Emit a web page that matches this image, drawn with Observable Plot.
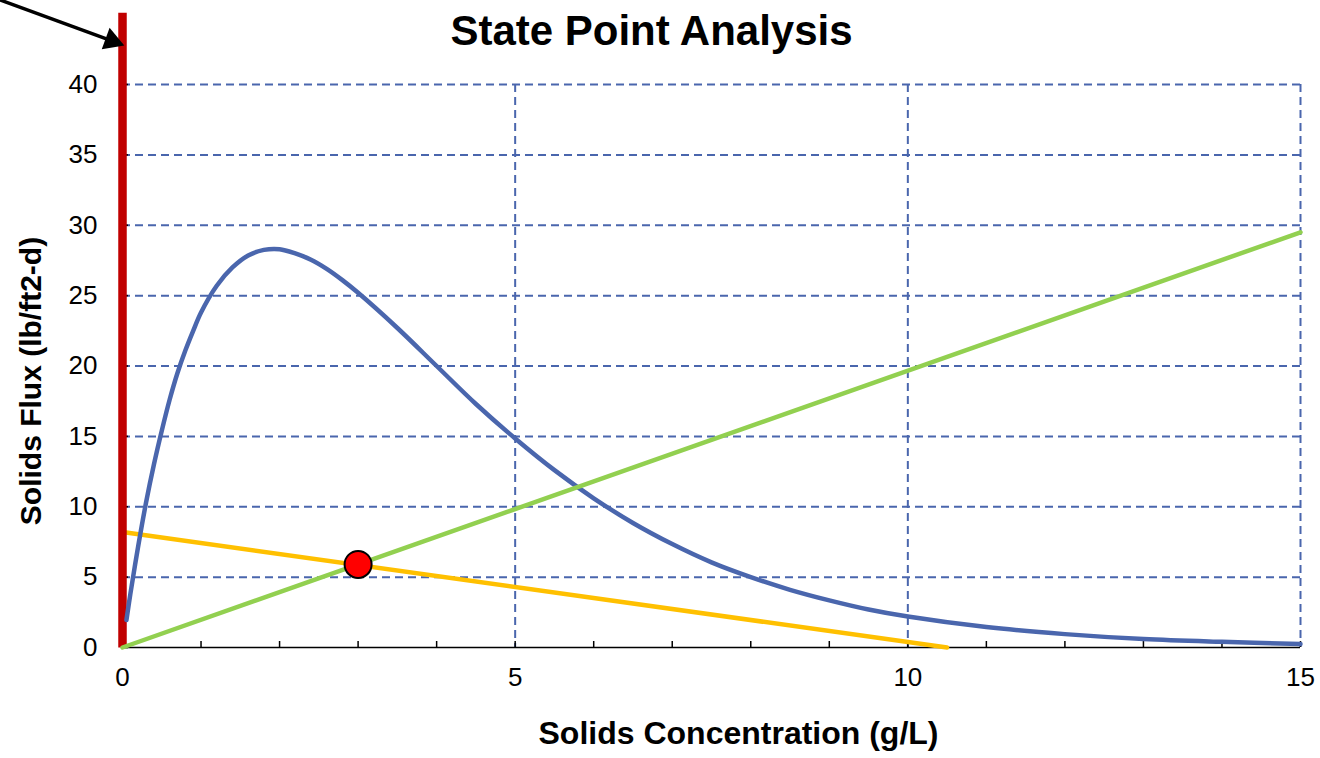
<!DOCTYPE html>
<html>
<head>
<meta charset="utf-8">
<script src="https://cdn.jsdelivr.net/npm/d3@7"></script>
<script src="https://cdn.jsdelivr.net/npm/@observablehq/plot@0.6"></script>
<style>
  html, body { margin: 0; padding: 0; background: #ffffff; }
  #chart svg { display: block; }
</style>
</head>
<body>
<div id="chart"></div>
<script>
// Gravity settling flux curve: solids concentration (g/L) vs solids flux (lb/ft2-d)
const fluxConc = [0.05, 0.1, 0.2, 0.3, 0.4, 0.5, 0.6, 0.7, 0.8, 0.9, 1.0, 1.2, 1.4, 1.6, 1.8, 2.0,
  2.2, 2.4, 2.6, 2.8, 3.0, 3.5, 4.0, 4.5, 5.0, 5.5, 6.0, 6.5, 7.0, 7.5, 8.0, 8.5, 9.0, 9.5,
  10, 11, 12, 13, 14, 15];
const fluxValues = [1.95, 3.8, 7.2, 10.3, 13.0, 15.4, 17.6, 19.5, 21.1, 22.5, 23.8, 25.7, 27.0,
  27.85, 28.25, 28.3, 28.0, 27.55, 26.9, 26.1, 25.2, 22.7, 20.0, 17.3, 14.85, 12.6, 10.6, 8.85,
  7.35, 6.05, 5.0, 4.1, 3.35, 2.7, 2.2, 1.45, 0.95, 0.6, 0.4, 0.25];

// Underflow operating line (through the origin)
const underflowConc = [0, 15];
const underflowFlux = [0, 29.5];

// Overflow / state point line
const overflowConc = [0, 10.5];
const overflowFlux = [8.2, 0];

// State point
const stateConc = [3];
const stateFlux = [5.9];

// Vertical marker at zero concentration
const wallConc = [0, 0];
const wallFlux = [0, 45.1];

// Pointer arrow (tail and head centre, in chart units)
const arrowX = [-1.58, -0.135];
const arrowY = [46.05, 43.1];

// Axis ticks
const xLabelTicks = [0, 5, 10, 15];
const xMinorTicks = [0, 1, 2, 3, 4, 5, 6, 7, 8, 9, 10, 11, 12, 13, 14, 15];
const xGridTicks = [5, 10, 15];
const yTicks = [0, 5, 10, 15, 20, 25, 30, 35, 40];
const yGridTicks = [5, 10, 15, 20, 25, 30, 35, 40];

const titleText = "State Point Analysis";
const xTitle = "Solids Concentration (g/L)";
const yTitle = "Solids Flux (lb/ft2-d)";

const toPoints = (xs, ys) => xs.map((x, i) => ({x, y: ys[i]}));
const fluxCurve = toPoints(fluxConc, fluxValues);
const underflow = toPoints(underflowConc, underflowFlux);
const overflow = toPoints(overflowConc, overflowFlux);
const statePoint = toPoints(stateConc, stateFlux);
const wall = toPoints(wallConc, wallFlux);
const arrow = [{x1: arrowX[0], y1: arrowY[0], x2: arrowX[1], y2: arrowY[1]}];

const gridColor = "#4a66ad";
const font = "'Liberation Sans', Arial, Helvetica, sans-serif";

const chart = Plot.plot({
  width: 1320,
  height: 758,
  marginLeft: 122,
  marginRight: 20,
  marginTop: 84,
  marginBottom: 111,
  x: {domain: [0, 15]},
  y: {domain: [0, 40]},
  style: {fontFamily: font, background: "#ffffff", overflow: "visible"},
  marks: [
    Plot.gridY(yGridTicks, {stroke: gridColor, strokeOpacity: 1, strokeWidth: 2, strokeDasharray: "8,5"}),
    Plot.gridX(xGridTicks, {stroke: gridColor, strokeOpacity: 1, strokeWidth: 2, strokeDasharray: "8,5"}),
    Plot.ruleY([0], {stroke: "#000000", strokeWidth: 1.5}),
    Plot.axisX(xMinorTicks, {tickSize: -6, tickFormat: () => "", label: null, stroke: "#000000", strokeWidth: 1.5}),
    Plot.axisX(xLabelTicks, {tickSize: 0, tickPadding: 20, label: null, fontSize: 26, fill: "#000000"}),
    Plot.axisY(yTicks, {tickSize: -6, tickFormat: () => "", label: null, stroke: "#000000", strokeWidth: 1.5}),
    Plot.axisY(yTicks, {tickSize: 0, tickPadding: 25, label: null, fontSize: 26, fill: "#000000"}),
    Plot.line(overflow, {x: "x", y: "y", stroke: "#ffc000", strokeWidth: 4.5}),
    Plot.line(wall, {x: "x", y: "y", stroke: "#c00000", strokeWidth: 8.5, strokeLinecap: "butt"}),
    Plot.line(fluxCurve, {x: "x", y: "y", stroke: "#4a66ad", strokeWidth: 4.5, curve: "catmull-rom"}),
    Plot.line(underflow, {x: "x", y: "y", stroke: "#92d050", strokeWidth: 4.5}),
    Plot.dot(statePoint, {x: "x", y: "y", r: 13.5, fill: "#ff0000", stroke: "#000000", strokeWidth: 2}),
    Plot.link(arrow, {x1: "x1", y1: "y1", x2: "x2", y2: "y2", stroke: "#000000", strokeWidth: 3.5}),
    Plot.dot(arrow, {x: "x2", y: "y2", symbol: "triangle", r: 8.5, rotate: 110, fill: "#000000", stroke: "none"}),
    Plot.text([titleText], {frameAnchor: "top", lineAnchor: "middle", textAnchor: "middle", dx: -60, dy: -53, fontSize: 42, fontWeight: "bold", fill: "#000000"}),
    Plot.text([xTitle], {frameAnchor: "bottom", lineAnchor: "middle", textAnchor: "middle", dx: 27, dy: 86, fontSize: 32, fontWeight: "bold", fill: "#000000"}),
    Plot.text([yTitle], {frameAnchor: "left", lineAnchor: "middle", textAnchor: "middle", rotate: -90, dx: -91, dy: 15, fontSize: 30, fontWeight: "bold", fill: "#000000"})
  ]
});

document.getElementById("chart").appendChild(chart);
</script>
</body>
</html>
